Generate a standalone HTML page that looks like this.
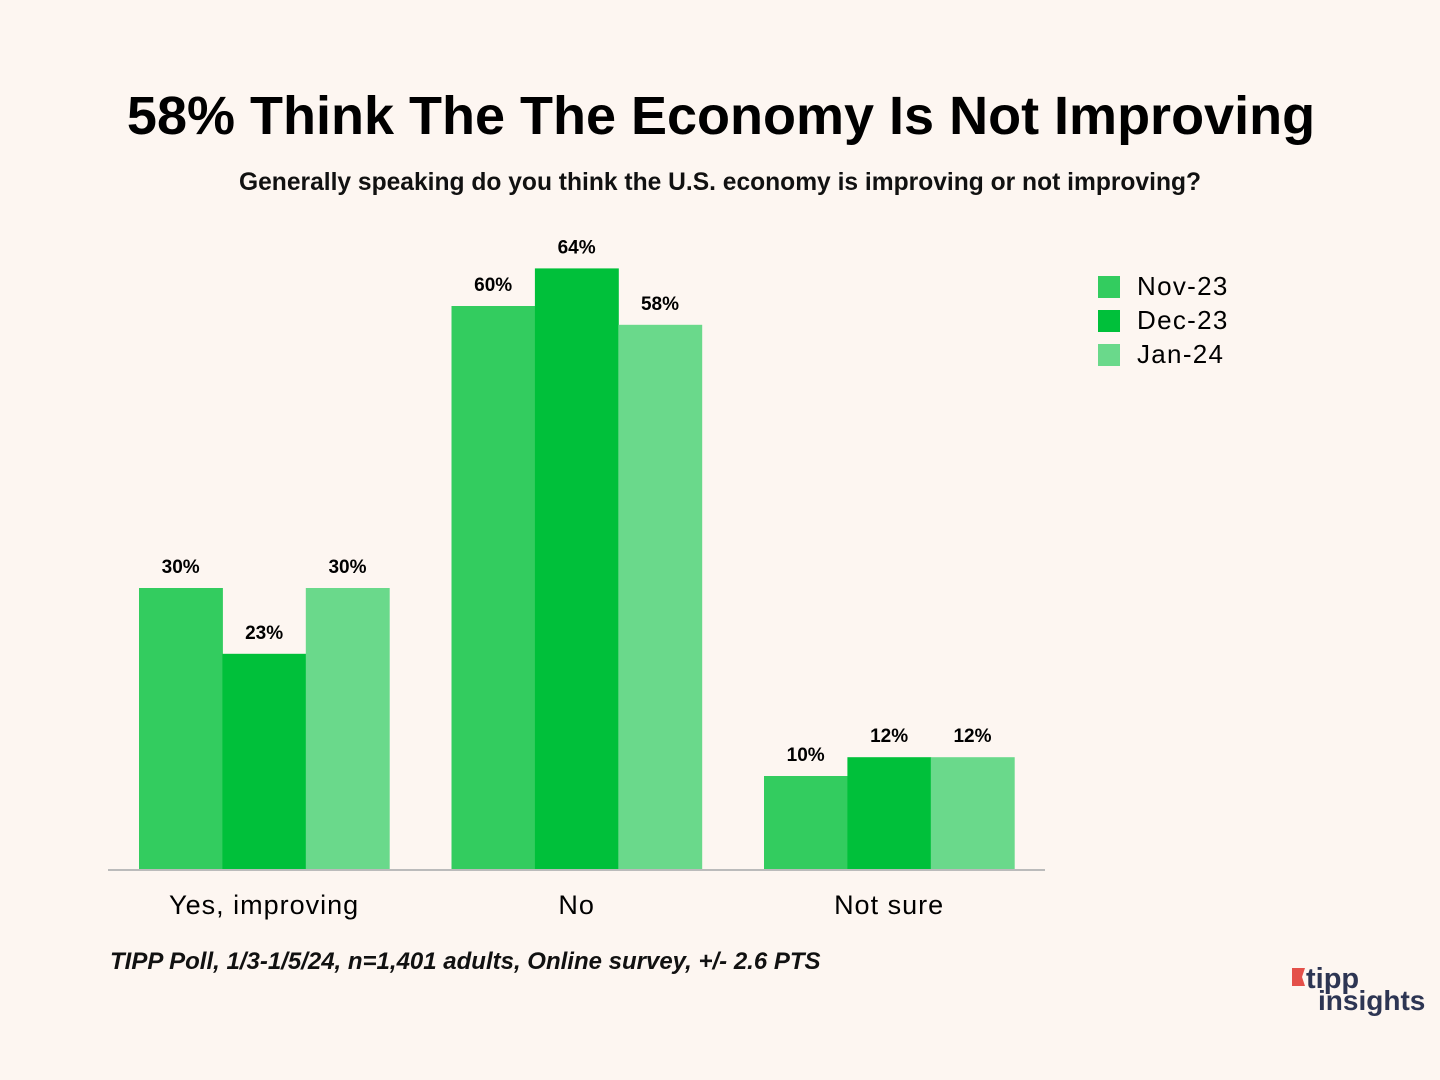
<!DOCTYPE html>
<html><head><meta charset="utf-8"><style>
body{margin:0;background:#fdf6f1;font-family:"Liberation Sans",sans-serif;}
#wrap{position:relative;width:1440px;height:1080px;overflow:hidden;background:#fdf6f1;}
</style></head><body>
<div id="wrap">
<svg id="chart" width="1440" height="1080" xmlns="http://www.w3.org/2000/svg">
<text x="721" y="134" text-anchor="middle" font-size="54" font-weight="bold" fill="#000" font-family="Liberation Sans, sans-serif">58% Think The The Economy Is Not Improving</text>
<text x="720" y="190" text-anchor="middle" font-size="24.6" font-weight="bold" fill="#111" font-family="Liberation Sans, sans-serif">Generally speaking do you think the U.S. economy is improving or not improving?</text>
<g id="bars"></g>
<line x1="108" y1="870" x2="1045" y2="870" stroke="#bbb" stroke-width="2"/>
<g id="legend"></g>
<text x="110" y="969" font-size="24" font-style="italic" font-weight="bold" fill="#111" font-family="Liberation Sans, sans-serif">TIPP Poll, 1/3-1/5/24, n=1,401 adults, Online survey, +/- 2.6 PTS</text>
<g>
<polygon points="1292,968 1305,968 1302,977 1305,986 1292,986" fill="#e4504a"/>
<text x="1306" y="988" font-size="29" font-weight="bold" fill="#2d3553" font-family="Liberation Sans, sans-serif">tipp</text>
<text x="1318" y="1010" font-size="28" font-weight="bold" fill="#2d3553" font-family="Liberation Sans, sans-serif">insights</text>
</g>
</svg>
</div>
<script>
const categories=["Yes, improving","No","Not sure"];
const seriesNames=["Nov-23","Dec-23","Jan-24"];
const nov23=[30,60,10];
const dec23=[23,64,12];
const jan24=[30,58,12];
const colors=["#33cc5f","#00c03a","#6ad98b"];
const series=[nov23,dec23,jan24];
const NS="http://www.w3.org/2000/svg";
const baseY=870, pxPer=9.4, groupStart=139, groupStep=312.5, barW=83.4;
function yScale(v){return baseY-v*pxPer;}
function xScale(ci,si){return groupStart+ci*groupStep+si*barW;}
const bars=document.getElementById('bars');
categories.forEach((c,ci)=>{
  series.forEach((s,si)=>{
    const r=document.createElementNS(NS,'rect');
    
    
    r.setAttribute('x',xScale(ci,si));r.setAttribute('y',yScale(s[ci]));
    r.setAttribute('width',barW+0.5);r.setAttribute('height',baseY-yScale(s[ci]));
    r.setAttribute('fill',colors[si]);bars.appendChild(r);
    const t=document.createElementNS(NS,'text');
    
    
    t.setAttribute('x',xScale(ci,si)+barW/2);t.setAttribute('y',yScale(s[ci])-15);
    t.setAttribute('text-anchor','middle');t.setAttribute('font-size','19');t.setAttribute('font-weight','bold');
    t.textContent=s[ci]+'%';bars.appendChild(t);
  });
  const l=document.createElementNS(NS,'text');
  
  
  l.setAttribute('x',groupStart+ci*groupStep+barW*1.5);l.setAttribute('y',914);
  l.setAttribute('text-anchor','middle');l.setAttribute('font-size','27');l.setAttribute('letter-spacing','1');
  l.textContent=c;bars.appendChild(l);
});
const lg=document.getElementById('legend');
seriesNames.forEach((n,i)=>{
  const r=document.createElementNS(NS,'rect');
  
  
  r.setAttribute('x',1098);r.setAttribute('y',276+i*34);r.setAttribute('width',22);r.setAttribute('height',22);
  r.setAttribute('fill',colors[i]);lg.appendChild(r);
  const t=document.createElementNS(NS,'text');
  
  
  t.setAttribute('x',1137);t.setAttribute('y',295+i*34);t.setAttribute('font-size','26');t.setAttribute('letter-spacing','1.3');
  t.textContent=n;lg.appendChild(t);
});
</script>
</body></html>
